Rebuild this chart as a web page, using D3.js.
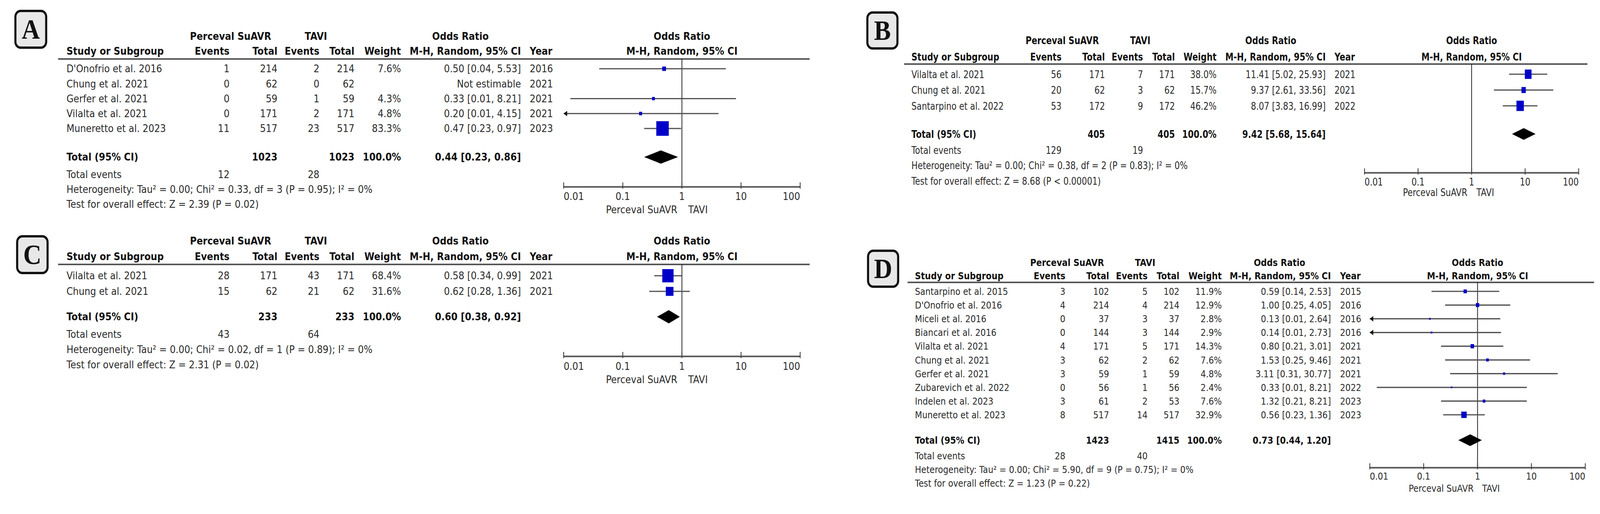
<!DOCTYPE html>
<html><head><meta charset="utf-8">
<script src="https://cdn.jsdelivr.net/npm/d3@7"></script>
<style>html,body{margin:0;padding:0;background:#fff;overflow:hidden}
#c{display:block;width:100vw;height:100vh}</style>
</head><body><svg id="c" viewBox="0 0 4573 1316" preserveAspectRatio="none"></svg>
<script>
// ---------------- DATA ----------------
// Panel A
const studiesA = ["D'Onofrio et al. 2016","Chung et al. 2021","Gerfer et al. 2021","Vilalta et al. 2021","Muneretto et al. 2023"];
const evSuA = [1,0,0,0,11];
const totSuA = [214,62,59,171,517];
const evTaA = [2,0,1,2,23];
const totTaA = [214,62,59,171,517];
const weightA = [7.6,null,4.3,4.8,83.3];
const orA = [0.50,null,0.33,0.20,0.47];
const lowA = [0.04,null,0.01,0.01,0.23];
const highA = [5.53,null,8.21,4.15,0.97];
const lineLowA = [null,null,0.013,null,null];
const arrowA = [false,false,false,true,false];
const yearA = [2016,2021,2021,2021,2023];
const totalA = {su:1023, ta:1023, w:"100.0%", or:0.44, low:0.23, high:0.86, evSu:12, evTa:28,
  het:"Heterogeneity: Tau² = 0.00; Chi² = 0.33, df = 3 (P = 0.95); I² = 0%",
  test:"Test for overall effect: Z = 2.39 (P = 0.02)"};

// Panel B
const studiesB = ["Vilalta et al. 2021","Chung et al. 2021","Santarpino et al. 2022"];
const evSuB = [56,20,53];
const totSuB = [171,62,172];
const evTaB = [7,3,9];
const totTaB = [171,62,172];
const weightB = [38.0,15.7,46.2];
const orB = [11.41,9.37,8.07];
const lowB = [5.02,2.61,3.83];
const highB = [25.93,33.56,16.99];
const lineLowB = [null,null,null];
const arrowB = [false,false,false];
const yearB = [2021,2021,2022];
const totalB = {su:405, ta:405, w:"100.0%", or:9.42, low:5.68, high:15.64, evSu:129, evTa:19,
  het:"Heterogeneity: Tau² = 0.00; Chi² = 0.38, df = 2 (P = 0.83); I² = 0%",
  test:"Test for overall effect: Z = 8.68 (P < 0.00001)"};

// Panel C
const studiesC = ["Vilalta et al. 2021","Chung et al. 2021"];
const evSuC = [28,15];
const totSuC = [171,62];
const evTaC = [43,21];
const totTaC = [171,62];
const weightC = [68.4,31.6];
const orC = [0.58,0.62];
const lowC = [0.34,0.28];
const highC = [0.99,1.36];
const lineLowC = [null,null];
const arrowC = [false,false];
const yearC = [2021,2021];
const totalC = {su:233, ta:233, w:"100.0%", or:0.60, low:0.38, high:0.92, evSu:43, evTa:64,
  het:"Heterogeneity: Tau² = 0.00; Chi² = 0.02, df = 1 (P = 0.89); I² = 0%",
  test:"Test for overall effect: Z = 2.31 (P = 0.02)"};

// Panel D
const studiesD = ["Santarpino et al. 2015","D'Onofrio et al. 2016","Miceli et al. 2016","Biancari et al. 2016","Vilalta et al. 2021","Chung et al. 2021","Gerfer et al. 2021","Zubarevich et al. 2022","Indelen et al. 2023","Muneretto et al. 2023"];
const evSuD = [3,4,0,0,4,3,3,0,3,8];
const totSuD = [102,214,37,144,171,62,59,56,61,517];
const evTaD = [5,4,3,3,5,2,1,1,2,14];
const totTaD = [102,214,37,144,171,62,59,56,53,517];
const weightD = [11.9,12.9,2.8,2.9,14.3,7.6,4.8,2.4,7.6,32.9];
const orD = [0.59,1.00,0.13,0.14,0.80,1.53,3.11,0.33,1.32,0.56];
const lowD = [0.14,0.25,0.01,0.01,0.21,0.25,0.31,0.01,0.21,0.23];
const highD = [2.53,4.05,2.64,2.73,3.01,9.46,30.77,8.21,8.21,1.36];
const lineLowD = [null,null,null,null,null,null,null,0.0135,null,null];
const arrowD = [false,false,true,true,false,false,false,false,false,false];
const yearD = [2015,2016,2016,2016,2021,2021,2021,2022,2023,2023];
const totalD = {su:1423, ta:1415, w:"100.0%", or:0.73, low:0.44, high:1.20, evSu:28, evTa:40,
  het:"Heterogeneity: Tau² = 0.00; Chi² = 5.90, df = 9 (P = 0.75); I² = 0%",
  test:"Test for overall effect: Z = 1.23 (P = 0.22)"};

const axisTicks = [0.01, 0.1, 1, 10, 100];
const axisLabels = ["0.01","0.1","1","10","100"];
const groupLeft = "Perceval SuAVR", groupRight = "TAVI";

// ---------------- LAYOUT ----------------
const layA = {letter:'A', box:[41,25,135,125], fs:26, studyW:278,
  h1:93, h2:131, line:[166,2314,151], row0:176, row1:329,
  totalY:402, evY:447, hetY:485, testY:523,
  cStudy:190, cEv1:656, cTot1:793, cEv2:913, cTot2:1013, cW:1146, cOR:1489, cYear:1514,
  hSu:659, hTa:903, hOR:1316,
  x1:1949, dec:169, axisY:478, tickY:503, labY:537, gapL:13, gapR:18,
  sqx:3.9, sqy:4.1, dia:17};
const layB = {letter:'B', box:[2476,29,2568,127], fs:27, studyW:251,
  h1:103, h2:145, line:[2584,4537,164], row0:190, row1:271,
  totalY:343, evY:384, hetY:423, testY:463,
  cStudy:2605, cEv1:3034, cTot1:3158, cEv2:3267, cTot2:3358, cW:3477, cOR:3789, cYear:3814,
  hSu:3036, hTa:3259, hOR:3632,
  x1:4206, dec:153, axisY:442, tickY:465, labY:492, gapL:12, gapR:14,
  sqx:3.1, sqy:3.9, dia:15};
const layC = {letter:'C', box:[46,602,139,702], fs:26, studyW:278,
  h1:617, h2:657, line:[166,2314,677], row0:706, row1:746,
  totalY:811, evY:856, hetY:895, testY:934,
  cStudy:190, cEv1:656, cTot1:793, cEv2:913, cTot2:1013, cW:1146, cOR:1489, cYear:1514,
  hSu:659, hTa:903, hOR:1316,
  x1:1949, dec:169, axisY:912, tickY:938, labY:972, gapL:13, gapR:18,
  sqx:3.9, sqy:4.1, dia:17};
const layD = {letter:'D', box:[2478,639,2570,737], fs:25, studyW:253,
  h1:672, h2:706, line:[2594,4556,723], row0:746, row1:1062,
  totalY:1127, evY:1167, hetY:1202, testY:1237,
  cStudy:2615, cEv1:3045, cTot1:3170, cEv2:3280, cTot2:3371, cW:3492, cOR:3804, cYear:3830,
  hSu:3050, hTa:3273, hOR:3657,
  x1:4223, dec:154, axisY:1197, tickY:1219, labY:1250, gapL:11, gapR:13,
  sqx:2.7, sqy:2.85, dia:15};

const svg = d3.select('#c');
const FONT = "'DejaVu Sans', sans-serif";
const f2 = v => v.toFixed(2);

function drawPanel(L, D) {
  const g = svg.append('g').style('font-family', FONT);
  const [bx0,by0,bx1,by1] = L.box;
  g.append('rect').attr('x',bx0+3).attr('y',by0+3).attr('width',bx1-bx0-6).attr('height',by1-by0-6)
    .attr('rx',15).attr('fill','#e8e8e8').attr('stroke','#111').attr('stroke-width',6);
  g.append('text').attr('x',(bx0+bx1)/2).attr('y',(by0+by1)/2).attr('dy','0.34em').attr('text-anchor','middle')
    .style('font-family',"'Liberation Serif', 'DejaVu Serif', serif").style('font-weight','bold').style('font-size','72px')
    .attr('fill','#111').text(L.letter);

  const tmp = g.append('text').style('font-size',L.fs+'px').style('font-weight','bold').text('Study or Subgroup');
  const cx = L.studyW / tmp.node().getComputedTextLength();
  tmp.remove();
  const T = (x,y,s,anchor='start',bold=false,fill) => g.append('text')
    .attr('transform',`translate(${x},${y}) scale(${cx},1)`)
    .attr('text-anchor',anchor).attr('dy','0.36em')
    .style('font-size',L.fs+'px').style('font-weight',bold?'bold':'normal')
    .attr('fill', fill || (bold ? '#111' : '#2b2b2b')).text(s);

  T(L.hSu, L.h1, groupLeft, 'middle', true);
  T(L.hTa, L.h1, groupRight, 'middle', true);
  T(L.hOR, L.h1, 'Odds Ratio', 'middle', true);
  T(L.x1, L.h1, 'Odds Ratio', 'middle', true);
  T(L.cStudy, L.h2, 'Study or Subgroup', 'start', true);
  T(L.cEv1, L.h2, 'Events', 'end', true);
  T(L.cTot1, L.h2, 'Total', 'end', true);
  T(L.cEv2, L.h2, 'Events', 'end', true);
  T(L.cTot2, L.h2, 'Total', 'end', true);
  T(L.cW, L.h2, 'Weight', 'end', true);
  T(L.cOR, L.h2, 'M-H, Random, 95% CI', 'end', true);
  T(L.cYear, L.h2, 'Year', 'start', true);
  T(L.x1, L.h2, 'M-H, Random, 95% CI', 'middle', true);

  g.append('line').attr('x1',L.line[0]).attr('x2',L.line[1]).attr('y1',L.line[2]).attr('y2',L.line[2])
    .attr('stroke','#555').attr('stroke-width',4);

  const x = d3.scaleLog().domain([0.01,100]).range([L.x1-2*L.dec, L.x1+2*L.dec]);
  const y = d3.scalePoint().domain(D.studies).range([L.row0, L.row1]);

  g.append('line').attr('x1',x(1)).attr('x2',x(1)).attr('y1',L.line[2]).attr('y2',L.axisY)
    .attr('stroke','#222').attr('stroke-width',2.2);

  D.studies.forEach((s,i) => {
    const yy = y(s);
    T(L.cStudy, yy, s);
    T(L.cEv1, yy, D.evSu[i], 'end');
    T(L.cTot1, yy, D.totSu[i], 'end');
    T(L.cEv2, yy, D.evTa[i], 'end');
    T(L.cTot2, yy, D.totTa[i], 'end');
    if (D.or[i] == null) {
      T(L.cOR, yy, 'Not estimable', 'end');
    } else {
      T(L.cW, yy, D.weight[i].toFixed(1)+'%', 'end');
      T(L.cOR, yy, `${f2(D.or[i])} [${f2(D.low[i])}, ${f2(D.high[i])}]`, 'end');
      const lo = Math.max(D.lineLow[i] != null ? D.lineLow[i] : D.low[i], 0.01);
      const hi = Math.min(D.high[i], 100);
      g.append('line').attr('x1',x(lo)).attr('x2',x(hi)).attr('y1',yy).attr('y2',yy)
        .attr('stroke','#505050').attr('stroke-width',3.2);
      if (D.arrow[i]) {
        const ax = x(0.01);
        g.append('path').attr('d',`M${ax},${yy} l10,-7 l0,14 Z`).attr('fill','#111');
      }
      const w = L.sqx*Math.sqrt(D.weight[i]), h = L.sqy*Math.sqrt(D.weight[i]);
      g.append('rect').attr('x',x(D.or[i])-w/2).attr('y',yy-h/2).attr('width',w).attr('height',h)
        .attr('fill','#0000c8');
    }
    T(L.cYear, yy, D.year[i], 'start');
  });

  const t = D.total;
  T(L.cStudy, L.totalY, 'Total (95% CI)', 'start', true);
  T(L.cTot1, L.totalY, t.su, 'end', true);
  T(L.cTot2, L.totalY, t.ta, 'end', true);
  T(L.cW, L.totalY, t.w, 'end', true);
  T(L.cOR, L.totalY, `${f2(t.or)} [${f2(t.low)}, ${f2(t.high)}]`, 'end', true);
  g.append('path').attr('d',`M${x(t.low)},${L.totalY} L${x(t.or)},${L.totalY-L.dia} L${x(t.high)},${L.totalY} L${x(t.or)},${L.totalY+L.dia} Z`)
    .attr('fill','#000');

  T(L.cStudy, L.evY, 'Total events');
  T(L.cEv1, L.evY, t.evSu, 'end');
  T(L.cEv2, L.evY, t.evTa, 'end');
  T(L.cStudy, L.hetY, t.het);
  T(L.cStudy, L.testY, t.test);

  const ax = g.append('g').attr('transform',`translate(0,${L.axisY})`)
    .call(d3.axisBottom(x).tickValues(axisTicks).tickSizeInner(0).tickSizeOuter(0).tickFormat(''));
  ax.select('.domain').attr('stroke','#555').attr('stroke-width',4);
  ax.selectAll('.tick line').remove();
  axisTicks.forEach((v,k) => {
    g.append('line').attr('x1',x(v)).attr('x2',x(v)).attr('y1',L.axisY-11).attr('y2',L.axisY+5)
      .attr('stroke','#444').attr('stroke-width',2.5);
    const anchor = k === 0 ? 'start' : (k === axisTicks.length-1 ? 'end' : 'middle');
    T(x(v), L.tickY, axisLabels[k], anchor);
  });
  T(x(1)-L.gapL, L.labY, groupLeft, 'end');
  T(x(1)+L.gapR, L.labY, groupRight, 'start');
}

const mk = (studies, evSu, totSu, evTa, totTa, weight, or, low, high, lineLow, arrow, year, total) =>
  ({studies, evSu, totSu, evTa, totTa, weight, or, low, high, lineLow, arrow, year, total});

drawPanel(layA, mk(studiesA, evSuA, totSuA, evTaA, totTaA, weightA, orA, lowA, highA, lineLowA, arrowA, yearA, totalA));
drawPanel(layB, mk(studiesB, evSuB, totSuB, evTaB, totTaB, weightB, orB, lowB, highB, lineLowB, arrowB, yearB, totalB));
drawPanel(layC, mk(studiesC, evSuC, totSuC, evTaC, totTaC, weightC, orC, lowC, highC, lineLowC, arrowC, yearC, totalC));
drawPanel(layD, mk(studiesD, evSuD, totSuD, evTaD, totTaD, weightD, orD, lowD, highD, lineLowD, arrowD, yearD, totalD));
</script>
</body></html>
